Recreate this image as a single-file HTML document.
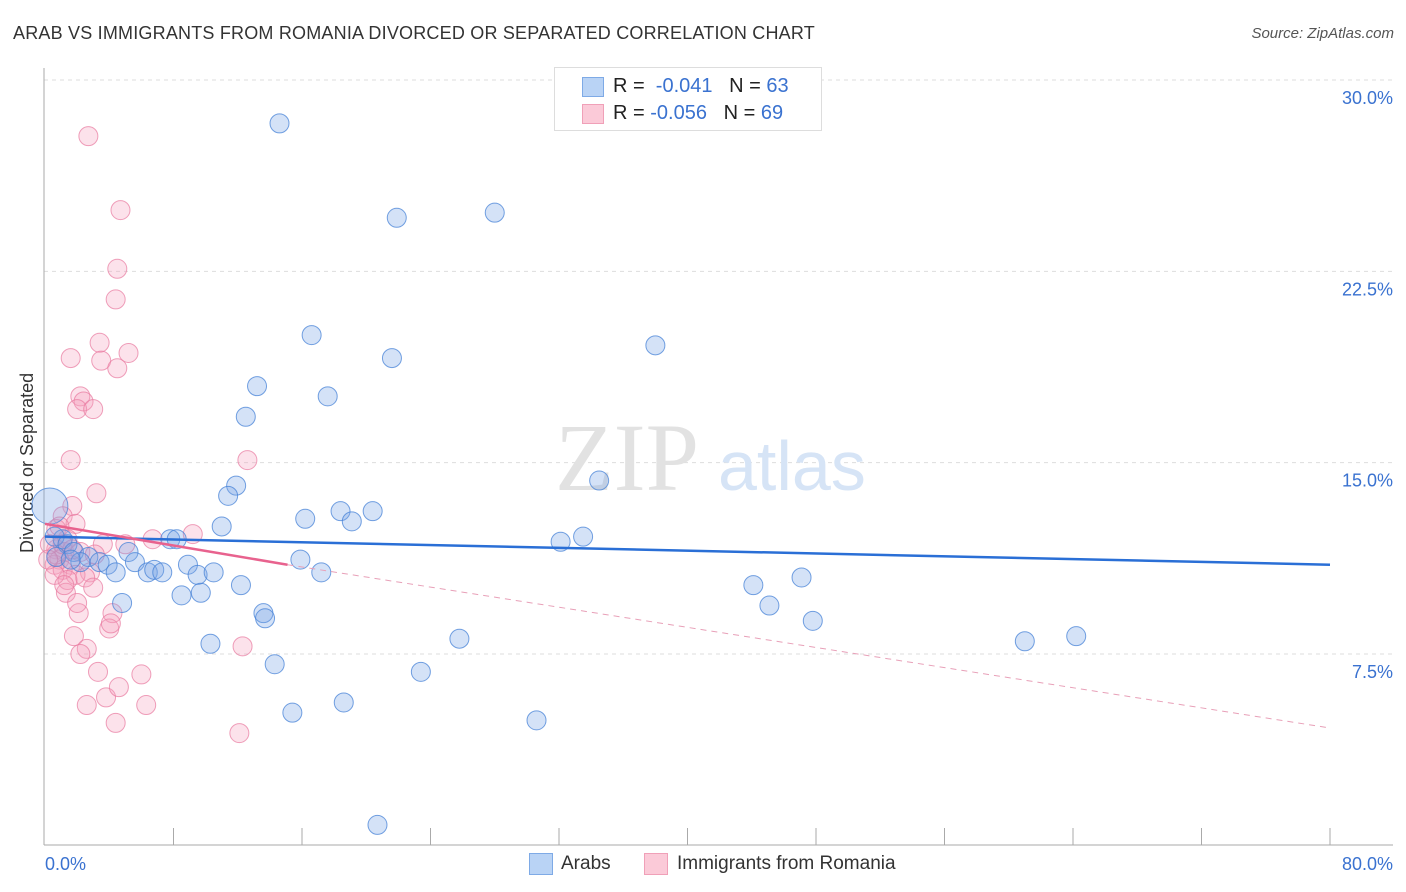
<!DOCTYPE html>
<html><head><meta charset="utf-8">
<style>
body{margin:0;background:#fff;font-family:"Liberation Sans",sans-serif;}
#wrap{position:relative;width:1406px;height:892px;overflow:hidden;}
.t{position:absolute;white-space:nowrap;}
</style></head>
<body>
<div id="wrap">
<div class="t" style="left:13px;top:23px;font-size:18px;color:#333;letter-spacing:0.2px">ARAB VS IMMIGRANTS FROM ROMANIA DIVORCED OR SEPARATED CORRELATION CHART</div>
<div class="t" style="right:12px;top:25px;font-size:15px;color:#555;font-style:italic">Source: ZipAtlas.com</div>
<div class="t" style="left:17px;top:553px;font-size:18px;color:#333;transform:rotate(-90deg);transform-origin:0 0">Divorced or Separated</div>
<svg id="svg" width="1406" height="892" style="position:absolute;left:0;top:0"></svg>
<div class="t" style="left:554px;top:67px;width:266px;height:62px;border:1px solid #ddd;background:#fff">
  <div style="position:absolute;left:27px;top:9px;width:20px;height:18px;background:#b9d3f5;border:1px solid #7eaae6"></div>
  <div class="t" style="left:58px;top:7px;font-size:20px;color:#222">R = &nbsp;<span style="color:#3a72d0">-0.041</span> &nbsp;&nbsp;N = <span style="color:#3a72d0">63</span></div>
  <div style="position:absolute;left:27px;top:36px;width:20px;height:18px;background:#fbcad8;border:1px solid #f0a0b8"></div>
  <div class="t" style="left:58px;top:34px;font-size:20px;color:#222">R = <span style="color:#3a72d0">-0.056</span> &nbsp;&nbsp;N = <span style="color:#3a72d0">69</span></div>
</div>
<div class="t" style="left:529px;top:853px;width:22px;height:20px;background:#b9d3f5;border:1px solid #7eaae6"></div>
<div class="t" style="left:561px;top:853px;font-size:19px;color:#333">Arabs</div>
<div class="t" style="left:644px;top:853px;width:22px;height:20px;background:#fbcad8;border:1px solid #f0a0b8"></div>
<div class="t" style="left:677px;top:853px;font-size:19px;color:#333">Immigrants from Romania</div>
</div>
<script>
const xTicks=[0,80];
const yTicks=[7.5,15,22.5,30];
const blueX=[14.6,21.9,28.0,16.6,21.6,38.0,13.2,17.6,12.5,34.5,11.9,11.4,16.2,18.4,20.4,19.1,11.0,32.1,33.5,7.8,8.2,1.1,0.6,1.4,5.2,1.8,2.7,3.4,3.9,4.4,5.6,6.4,6.8,7.3,8.9,9.5,10.5,15.9,17.2,12.2,8.5,9.7,4.8,13.6,13.7,44.1,47.1,45.1,47.8,10.3,25.8,14.3,23.4,15.4,18.6,30.6,61.0,64.2,20.7,2.2,0.7,1.6,0.3];
const blueY=[28.3,24.6,24.8,20.0,19.1,19.6,18.0,17.6,16.8,14.3,14.1,13.7,12.8,13.1,13.1,12.7,12.5,11.9,12.1,12.0,12.0,12.0,12.1,11.8,11.5,11.5,11.3,11.1,11.0,10.7,11.1,10.7,10.8,10.7,11.0,10.6,10.7,11.2,10.7,10.2,9.8,9.9,9.5,9.1,8.9,10.2,10.5,9.4,8.8,7.9,8.1,7.1,6.8,5.2,5.6,4.9,8.0,8.2,0.8,11.1,11.3,11.2,13.3];
const blueW=[1,1,1,1,1,1,1,1,1,1,1,1,1,1,1,1,1,1,1,1,1,1,1,1,1,1,1,1,1,1,1,1,1,1,1,1,1,1,1,1,1,1,1,1,1,1,1,1,1,1,1,1,1,1,1,1,1,1,1,1,1,1,1.9];
const pinkX=[2.7,4.7,4.5,4.4,1.6,3.4,3.5,5.2,4.5,2.2,2.4,2.0,3.0,1.6,12.6,3.2,1.7,1.1,1.9,0.7,1.4,6.7,9.2,5.0,3.6,0.7,1.2,2.2,0.9,1.6,0.6,1.1,2.8,1.9,2.5,1.4,3.0,1.3,2.1,2.0,4.2,4.0,4.1,1.8,2.6,2.2,3.3,6.0,3.8,4.6,2.6,6.3,4.4,12.1,12.3,0.7,0.3,1.1,1.7,3.1,0.6,0.9,1.2,0.2];
const pinkY=[27.8,24.9,22.6,21.4,19.1,19.7,19.0,19.3,18.7,17.6,17.4,17.1,17.1,15.1,15.1,13.8,13.3,12.9,12.6,12.4,12.0,12.0,12.2,11.8,11.8,11.6,11.5,11.5,11.2,11.0,11.0,10.8,10.7,10.6,10.5,10.4,10.1,9.9,9.1,9.5,9.1,8.5,8.7,8.2,7.7,7.5,6.8,6.7,5.8,6.2,5.5,5.5,4.8,4.4,7.8,11.4,11.8,11.8,11.6,11.4,10.6,12.5,10.2,11.2];
const blueTrend=[[0,12.1],[80,11.0]];
const pinkTrendSolid=[[0,12.6],[15.1,11.0]];
const pinkTrendDash=[[15.1,11.0],[80,4.6]];
const X=v=>45+v*(1330-45)/80;
const Y=v=>80+(30-v)*(654-80)/22.5;
const svg=document.getElementById('svg');
const NS='http://www.w3.org/2000/svg';
function mk(tag,attrs){const e=document.createElementNS(NS,tag);for(const k in attrs)e.setAttribute(k,attrs[k]);svg.appendChild(e);return e;}
// gridlines
yTicks.forEach(v=>{
 const g=mk('line',{x1:44,x2:1393,y1:Y(v),y2:Y(v),stroke:'#ddd','stroke-dasharray':'4,4'});
 
 
 const t=mk('text',{x:1393,y:Y(v)+24,'text-anchor':'end','font-size':18,fill:'#3a72d0','font-family':'Liberation Sans, sans-serif'});
 t.textContent=v.toFixed(1)+'%';
 
 
});
// axes
const ax=mk('line',{x1:44,x2:44,y1:68,y2:845,stroke:'#aaa'});


const bx=mk('line',{x1:44,x2:1393,y1:845,y2:845,stroke:'#aaa'});


for(let i=1;i<=10;i++){
 const xx=X(i*8);
 const tk=mk('line',{x1:xx,x2:xx,y1:828,y2:845,stroke:'#aaa'});
 
 
}
xTicks.forEach((v,i)=>{
 const t=mk('text',{x:i==0?45:1393,y:870,'text-anchor':i==0?'start':'end','font-size':18,fill:'#3a72d0','font-family':'Liberation Sans, sans-serif'});
 t.textContent=v.toFixed(1)+'%';
 
 
});
// watermark
const wm=mk('text',{x:555,y:490,'font-size':96,fill:'#e2e2e2','font-family':'Liberation Serif, serif'});
wm.textContent='ZIP';


const wm2=mk('text',{x:718,y:490,'font-size':70,fill:'#d6e4f6','font-family':'Liberation Sans, sans-serif'});
wm2.textContent='atlas';


// points
pinkX.forEach((v,i)=>{
 const c=mk('circle',{cx:X(v),cy:Y(pinkY[i]),r:9.5,fill:'rgba(244,160,188,0.3)',stroke:'rgba(232,120,158,0.7)','stroke-width':1});
 
 
});
blueX.forEach((v,i)=>{
 const c=mk('circle',{cx:X(v),cy:Y(blueY[i]),r:9.5*blueW[i],fill:'rgba(120,165,230,0.32)',stroke:'rgba(70,130,215,0.75)','stroke-width':1});
 
 
});
// trends
const l1=mk('line',{x1:X(blueTrend[0][0]),y1:Y(blueTrend[0][1]),x2:X(blueTrend[1][0]),y2:Y(blueTrend[1][1]),stroke:'#2a6fd6','stroke-width':2.5});


const l2=mk('line',{x1:X(pinkTrendSolid[0][0]),y1:Y(pinkTrendSolid[0][1]),x2:X(pinkTrendSolid[1][0]),y2:Y(pinkTrendSolid[1][1]),stroke:'#e8628e','stroke-width':2.5});


const l3=mk('line',{x1:X(pinkTrendDash[0][0]),y1:Y(pinkTrendDash[0][1]),x2:X(pinkTrendDash[1][0]),y2:Y(pinkTrendDash[1][1]),stroke:'#e8a0b8','stroke-width':1,'stroke-dasharray':'6,5'});


</script>
</body></html>
